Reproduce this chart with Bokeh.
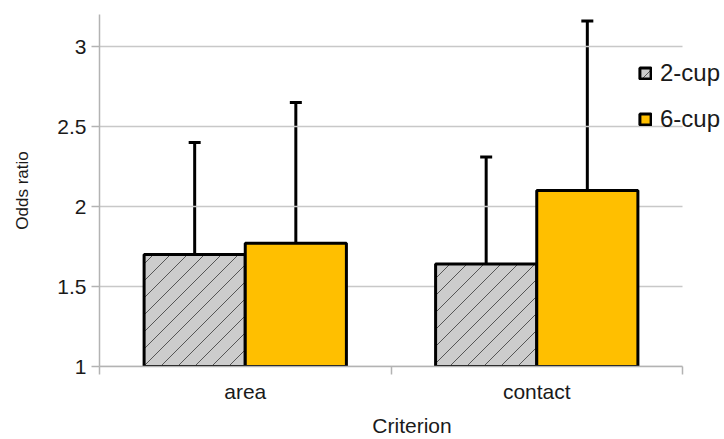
import base64
from bokeh.plotting import figure
from bokeh.models import (ColumnDataSource, FixedTicker, Whisker, TeeHead, Legend, LegendItem,
                          Range1d, ImageURLTexture)
from bokeh.transform import dodge
from bokeh.embed import file_html
from bokeh.resources import INLINE

categories = ["area", "contact"]
series_names = ["2-cup", "6-cup"]
two_cup = [1.70, 1.64]
two_cup_low = [1.21, 1.17]
two_cup_high = [2.40, 2.31]
six_cup = [1.77, 2.10]
six_cup_low = [1.18, 1.39]
six_cup_high = [2.65, 3.16]
y_ticks = [1, 1.5, 2, 2.5, 3]

FONT = "Liberation Sans"
TXT = "#1a1a1a"
GRID = "#c8c8c8"
AXC = "#b3b3b3"

n = len(categories)
centers = [i + 0.5 for i in range(n)]
src = ColumnDataSource(dict(
    x=centers, cat=categories,
    a=two_cup, a_lo=two_cup_low, a_hi=two_cup_high,
    b=six_cup, b_lo=six_cup_low, b_hi=six_cup_high,
    pat=["diag45"] * n,
))

x_end = n * (724 - 99) / 583.0
p = figure(width=724, height=439, output_backend="svg", toolbar_location=None,
           x_range=Range1d(0, x_end), y_range=Range1d(1, 3.2),
           min_border_left=99, min_border_top=14, min_border_right=0, min_border_bottom=73)
p.outline_line_color = None
p.background_fill_color = "white"

p.segment(x0=[0] * len(y_ticks), x1=[n] * len(y_ticks), y0=y_ticks, y1=y_ticks,
          line_color=GRID, line_width=1.5)

tile = ("<svg xmlns='http://www.w3.org/2000/svg' width='17' height='17'>"
        "<path d='M-2,19 L19,-2 M-2,2 L2,-2 M15,19 L19,15' stroke='#555555' "
        "stroke-width='1' fill='none'/></svg>")
tile_url = "data:image/svg+xml;base64," + base64.b64encode(tile.encode()).decode()
diag = ImageURLTexture(url=tile_url)

off = 0.1735
w = 0.347
r1 = p.vbar(x=dodge("x", -off, range=p.x_range), top="a", bottom=1, width=w, source=src,
            fill_color="#cccccc", line_color="black", line_width=3,
            hatch_pattern="pat", hatch_extra={"diag45": diag},
            hatch_color="#555555", hatch_scale=17, hatch_weight=1)
r2 = p.vbar(x=dodge("x", off, range=p.x_range), top="b", bottom=1, width=w, source=src,
            fill_color="#ffbf00", line_color="black", line_width=3)

for xf, lo, hi in [(-off, "a_lo", "a_hi"), (off, "b_lo", "b_hi")]:
    wk = Whisker(base=dodge("x", xf, range=p.x_range), lower=lo, upper=hi, source=src,
                 line_color="black", line_width=3,
                 upper_head=TeeHead(size=12, line_width=3, line_color="black"),
                 lower_head=TeeHead(size=12, line_width=3, line_color="black"))
    p.add_layout(wk)

# x axis
p.xaxis.bounds = (0, n)
p.xaxis.ticker = FixedTicker(ticks=centers, minor_ticks=list(range(n + 1)))
p.xaxis.major_label_overrides = {c: lab for c, lab in zip(centers, categories)}
p.xaxis.major_tick_line_color = None
p.xaxis.major_tick_out = 0
p.xaxis.major_tick_in = 0
p.xaxis.minor_tick_line_color = AXC
p.xaxis.minor_tick_line_width = 1.5
p.xaxis.minor_tick_out = 8
p.xaxis.minor_tick_in = 0
p.xaxis.axis_line_color = AXC
p.xaxis.axis_line_width = 1.5
p.xaxis.axis_label = "Criterion"
p.xaxis.major_label_standoff = 5
p.xaxis.axis_label_standoff = 8

# y axis
p.yaxis.bounds = (1, 3.2)
p.yaxis.ticker = FixedTicker(ticks=y_ticks, minor_ticks=[])
p.yaxis.major_label_overrides = {1: "1", 1.5: "1.5", 2: "2", 2.5: "2.5", 3: "3"}
p.yaxis.major_tick_line_color = AXC
p.yaxis.major_tick_line_width = 1.5
p.yaxis.major_tick_out = 8
p.yaxis.major_tick_in = 0
p.yaxis.axis_line_color = AXC
p.yaxis.axis_line_width = 1.5
p.yaxis.axis_label = "Odds ratio"
p.yaxis.major_label_standoff = 5
p.yaxis.axis_label_standoff = 22

for ax in [p.xaxis, p.yaxis]:
    ax.major_label_text_font = FONT
    ax.major_label_text_font_size = "21px"
    ax.major_label_text_color = TXT
    ax.axis_label_text_font = FONT
    ax.axis_label_text_font_style = "normal"
    ax.axis_label_text_color = TXT
p.xaxis.axis_label_text_font_size = "21px"
p.yaxis.axis_label_text_font_size = "17px"

p.xgrid.grid_line_color = None
p.ygrid.grid_line_color = None

legend = Legend(items=[LegendItem(label=series_names[0], renderers=[r1]),
                       LegendItem(label=series_names[1], renderers=[r2])],
                location=(539, 233), orientation="vertical",
                glyph_width=14, glyph_height=14, label_standoff=8, spacing=18,
                padding=0, margin=0, border_line_color=None, background_fill_alpha=0,
                label_text_font=FONT, label_text_font_size="24px", label_text_color=TXT)
p.add_layout(legend)

open("out.html", "w").write(file_html(p, INLINE))
